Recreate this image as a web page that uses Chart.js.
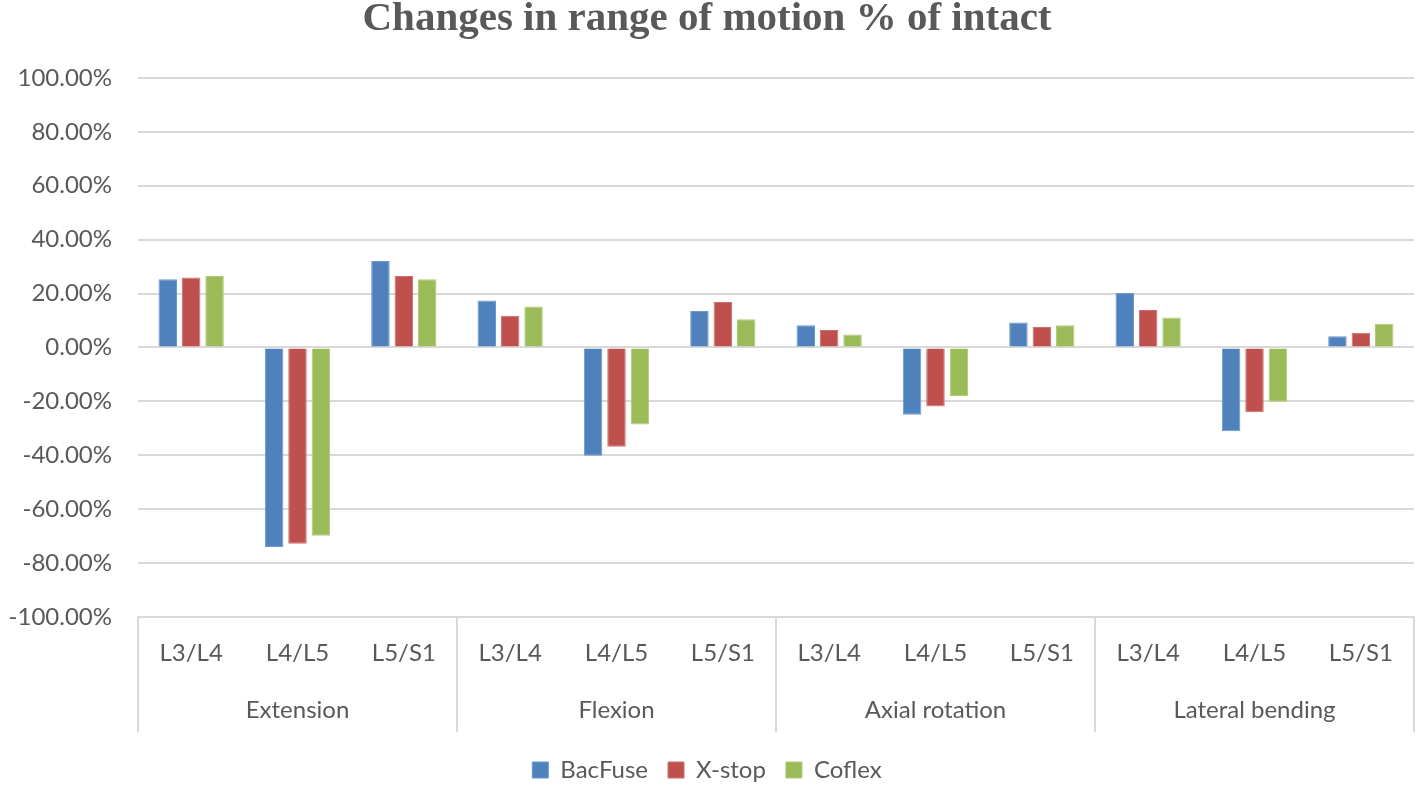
<!DOCTYPE html>
<html>
<head>
<meta charset="utf-8">
<script src="https://cdn.jsdelivr.net/npm/chart.js@4"></script>
<style>
html,body{margin:0;padding:0;background:#fff;}
#wrap{width:1416px;height:792px;position:relative;}
</style>
</head>
<body>
<div id="wrap"><canvas id="c" width="1416" height="792"></canvas></div>
<script>
const levels = ['L3/L4','L4/L5','L5/S1','L3/L4','L4/L5','L5/S1','L3/L4','L4/L5','L5/S1','L3/L4','L4/L5','L5/S1'];
const groups = ['Extension','Flexion','Axial rotation','Lateral bending'];
const bacFuse = [25.3, -74.0, 32.1, 17.4, -40.2, 13.5, 8.2, -25.0, 9.3, 20.2, -31.1, 4.2];
const xStop   = [26.0, -72.8, 26.5, 11.8, -36.8, 16.9, 6.5, -21.9, 7.6, 13.9, -24.0, 5.5];
const coflex  = [26.5, -69.9, 25.3, 15.2, -28.6, 10.5, 4.8, -18.0, 8.2, 11.1, -20.1, 8.8];
const yTicks  = [100, 80, 60, 40, 20, 0, -20, -40, -60, -80, -100];

const TXT = '#595959';
const GRID = '#D9D9D9';
const FONT = 'Lato';

const separators = {
  id: 'separators',
  afterDraw(chart) {
    const ctx = chart.ctx;
    const x = chart.scales.x;
    const ca = chart.chartArea;
    const n = levels.length;
    const step = (x.right - x.left) / n;
    ctx.save();
    ctx.strokeStyle = GRID;
    ctx.lineWidth = 2;
    for (let k = 0; k <= n; k += 3) {
      const px = Math.round(x.left + k * step);
      ctx.beginPath();
      ctx.moveTo(px, ca.bottom);
      ctx.lineTo(px, ca.bottom + 115);
      ctx.stroke();
    }
    ctx.restore();
  }
};

new Chart(document.getElementById('c'), {
  type: 'bar',
  data: {
    labels: levels,
    datasets: [
      {label: 'BacFuse', data: bacFuse, backgroundColor: '#4F81BD', borderColor: '#6C97CB', borderWidth: 1},
      {label: 'X-stop', data: xStop, backgroundColor: '#C0504D', borderColor: '#CE6F6C', borderWidth: 1},
      {label: 'Coflex', data: coflex, backgroundColor: '#9BBB59', borderColor: '#AFCB74', borderWidth: 1}
    ]
  },
  options: {
    responsive: false,
    animation: false,
    layout: {padding: {left: 0, right: 2, top: 0, bottom: 0}},
    datasets: {bar: {categoryPercentage: 0.66, barPercentage: 0.79}},
    plugins: {
      title: {
        display: true,
        text: 'Changes in range of motion % of intact',
        color: TXT,
        font: {family: 'Liberation Serif', size: 41, weight: 'bold', lineHeight: 0.95},
        padding: {top: 0, bottom: 39}
      },
      legend: {
        position: 'bottom',
        labels: {
          color: TXT,
          font: {family: FONT, size: 24},
          boxWidth: 16,
          boxHeight: 16,
          padding: 20
        }
      },
      tooltip: {enabled: false}
    },
    scales: {
      y: {
        min: -100,
        max: 100,
        afterFit(s) { s.width = 138; },
        afterBuildTicks(s) { s.ticks = yTicks.map(v => ({value: v})); },
        ticks: {
          color: TXT,
          font: {family: FONT, size: 24},
          padding: 26,
          callback: v => v.toFixed(2) + '%'
        },
        grid: {color: GRID, lineWidth: 2, drawTicks: false},
        border: {display: false}
      },
      x: {
        position: 'bottom',
        afterFit(s) { s.height = 57; },
        ticks: {color: TXT, font: {family: FONT, size: 24}, padding: 22, maxRotation: 0},
        grid: {display: false, drawTicks: false},
        border: {display: false}
      },
      x2: {
        type: 'category',
        position: 'bottom',
        labels: groups,
        offset: true,
        afterFit(s) { s.height = 64; },
        ticks: {color: TXT, font: {family: FONT, size: 24}, padding: 22, maxRotation: 0},
        grid: {display: false, drawTicks: false},
        border: {display: false}
      }
    }
  },
  plugins: [separators]
});
</script>
</body>
</html>
